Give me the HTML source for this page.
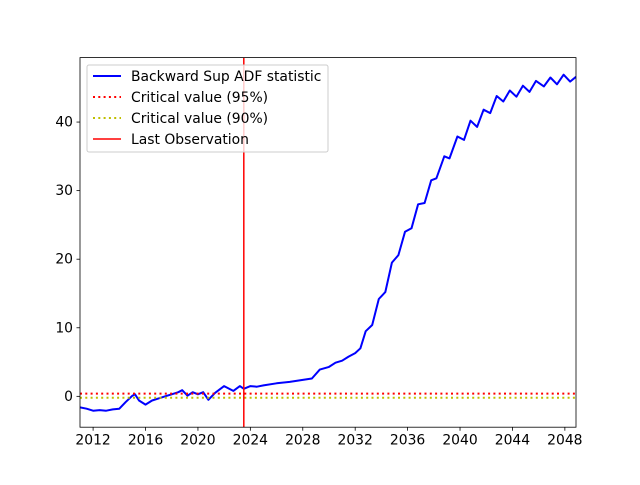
<!DOCTYPE html>
<html><head><meta charset="utf-8"><style>
body{margin:0;background:#fff}
svg text{font-family:"DejaVu Sans","Liberation Sans",sans-serif;}
</style></head><body>
<svg id="chart" width="640" height="480" xmlns="http://www.w3.org/2000/svg">
<rect width="640" height="480" fill="#fff"/>
<defs><clipPath id="clip"><rect x="80" y="57.6" width="496" height="369.6"/></clipPath></defs>
<g id="plot" clip-path="url(#clip)"></g>
<g id="axes"></g>
</svg>
<script>
const years = [2011.0,2011.5,2012.0,2012.5,2013.0,2013.5,2014.0,2014.5,2015.0,2015.2,2015.5,2016.0,2016.5,2017.0,2017.5,2018.0,2018.5,2018.8,2019.2,2019.6,2020.0,2020.4,2020.8,2021.3,2022.0,2022.7,2023.2,2023.5,2024.0,2024.5,2025.0,2026.0,2027.0,2028.0,2028.7,2029.3,2030.0,2030.5,2031.0,2031.5,2032.0,2032.4,2032.8,2033.3,2033.8,2034.3,2034.8,2035.3,2035.8,2036.3,2036.8,2037.3,2037.8,2038.2,2038.8,2039.2,2039.8,2040.3,2040.8,2041.3,2041.8,2042.3,2042.8,2043.3,2043.8,2044.3,2044.8,2045.3,2045.8,2046.4,2046.9,2047.4,2047.9,2048.4,2048.85];
const values = [-1.6,-1.8,-2.1,-2.0,-2.1,-1.9,-1.8,-0.8,0.1,0.3,-0.6,-1.2,-0.6,-0.3,0.0,0.3,0.6,0.9,0.1,0.6,0.3,0.6,-0.5,0.5,1.5,0.8,1.5,1.1,1.5,1.4,1.6,1.9,2.1,2.4,2.6,3.9,4.3,4.9,5.2,5.8,6.3,7.0,9.5,10.4,14.2,15.2,19.5,20.6,24.0,24.5,28.0,28.2,31.5,31.8,35.0,34.7,37.9,37.4,40.2,39.3,41.8,41.3,43.8,43.0,44.6,43.7,45.3,44.4,46.0,45.2,46.5,45.5,46.9,45.9,46.6];
const yTicks = [0,10,20,30,40];
const xTicks = [2012,2016,2020,2024,2028,2032,2036,2040,2044,2048];
const crit95 = [0.4];
const crit90 = [-0.2];
const lastObs = [2023.5];

const L=80,R=576,T=57.6,B=427.2, X0=2011.0,X1=2048.85, Y0=-4.5,Y1=49.4;
const sx=v=>L+(v-X0)/(X1-X0)*(R-L);
const sy=v=>B-(v-Y0)/(Y1-Y0)*(B-T);
const NS="http://www.w3.org/2000/svg";
function mk(tag,attrs,parent){const e=document.createElementNS(NS,tag);for(const k in attrs)e.setAttribute(k,attrs[k]);parent.appendChild(e);return e;}
const plot=document.getElementById('plot'), axes=document.getElementById('axes');

let d=years.map((y,i)=>(i?'L':'M')+sx(y).toFixed(1)+','+sy(values[i]).toFixed(1)).join('');
const line=mk('path',{d:d,fill:'none',stroke:'#0000ff','stroke-width':2,'stroke-linejoin':'round'},plot);


const c95=mk('line',{x1:L,x2:R,y1:sy(crit95[0]),y2:sy(crit95[0]),stroke:'#ff0000','stroke-width':2,'stroke-dasharray':'2,3.3'},plot);


const c90=mk('line',{x1:L,x2:R,y1:sy(crit90[0]),y2:sy(crit90[0]),stroke:'#bfbf00','stroke-width':2,'stroke-dasharray':'2,3.3'},plot);


const lo=mk('line',{x1:sx(lastObs[0]),x2:sx(lastObs[0]),y1:T,y2:B,stroke:'#ff0000','stroke-width':1.5},plot);



const frame=mk('rect',{x:L,y:T,width:R-L,height:B-T,fill:'none',stroke:'#000','stroke-width':0.8},axes);


yTicks.forEach(v=>{
  const y=sy(v);
  mk('line',{x1:L-3.5,x2:L,y1:y,y2:y,stroke:'#000','stroke-width':0.8},axes);
  const t=mk('text',{x:L-7,y:y+4.5,'text-anchor':'end','font-size':'13.9'},axes);
  t.textContent=v;
  
  
});
xTicks.forEach(v=>{
  const x=sx(v);
  mk('line',{x1:x,x2:x,y1:B,y2:B+3.5,stroke:'#000','stroke-width':0.8},axes);
  const t=mk('text',{x:x,y:B+17.5,'text-anchor':'middle','font-size':'13.9'},axes);
  t.textContent=v;
  
  
});

const lg=mk('g',{},axes);


mk('rect',{x:87,y:65,width:241,height:87,rx:2,fill:'#fff','fill-opacity':0.8,stroke:'#ccc','stroke-width':1},lg);
const entries=[['Backward Sup ADF statistic','#0000ff',null,2],['Critical value (95%)','#ff0000','2,3.3',2],['Critical value (90%)','#bfbf00','2,3.3',2],['Last Observation','#ff0000',null,1.5]];
entries.forEach((e,i)=>{
  const y=76+i*21;
  const g=mk('g',{},lg);
  
  
  const a={x1:93,x2:121,y1:y,y2:y,stroke:e[1],'stroke-width':e[3]};
  if(e[2])a['stroke-dasharray']=e[2];
  mk('line',a,g);
  const t=mk('text',{x:131,y:y+5,'font-size':'13.9'},g);
  t.textContent=e[0];
});
</script>
</body></html>
